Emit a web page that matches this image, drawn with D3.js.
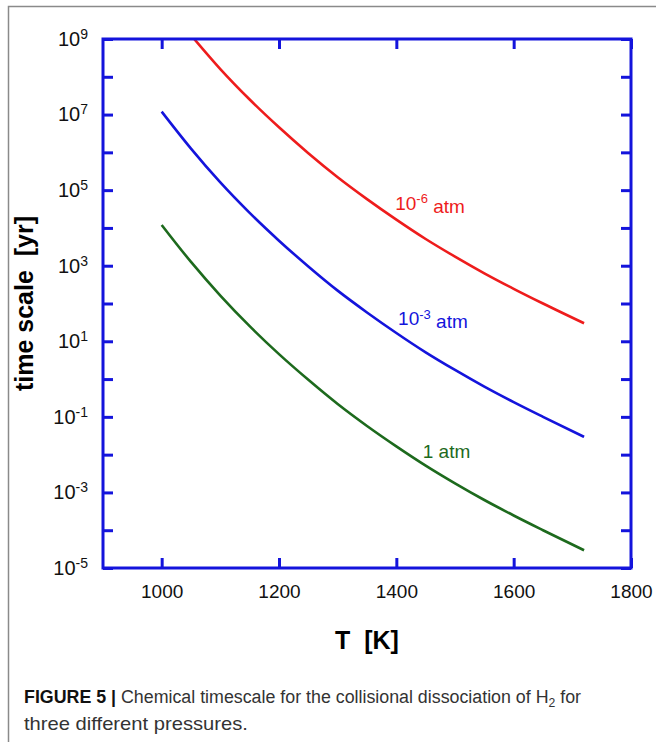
<!DOCTYPE html>
<html>
<head>
<meta charset="utf-8">
<script src="https://cdn.jsdelivr.net/npm/d3@7"></script>
<style>
    body { margin: 0; background: #fff; }
    svg { display: block; }
</style>
</head>
<body>
<svg id="chart" width="656" height="742"></svg>
<script>
// temperatures [K] at which the curves were read
const temps = [1000, 1050, 1100, 1150, 1200, 1250, 1300, 1350, 1400, 1450, 1500, 1550, 1600, 1650, 1720];

// time scale [yr] (null = above 10^9, off the chart)
const time_1atm = [1.2e4, 1.26e3, 162, 25.1, 4.57, 0.955, 0.219, 0.0575, 0.0166, 5.13e-3, 1.74e-3, 6.3e-4, 2.45e-4, 1.0e-4, 2.95e-5];
const time_1e3atm = [1.2e7, 1.26e6, 1.6e5, 2.5e4, 4.6e3, 955, 219, 58, 16.6, 5.1, 1.74, 0.63, 0.245, 0.1, 0.0295];
const time_1e6atm = [null, 1.26e9, 1.6e8, 2.5e7, 4.6e6, 9.5e5, 2.2e5, 5.8e4, 1.66e4, 5.1e3, 1.74e3, 630, 245, 100, 30];

const seriesNames = ["1 atm", "10^-3 atm", "10^-6 atm"];
const seriesColors = ["#1d6a1d", "#1414dc", "#ee1c1c"];

const xTicks = [1000, 1200, 1400, 1600, 1800];
const yDecades = [1e-5, 1e-4, 1e-3, 1e-2, 1e-1, 1, 10, 1e2, 1e3, 1e4, 1e5, 1e6, 1e7, 1e8, 1e9];

const margin = {top: 39, right: 25, bottom: 174, left: 103};
const width = 656 - margin.left - margin.right,
      height = 742 - margin.top - margin.bottom;
const axisColor = "#1414dc";
const font = "Arial, 'Liberation Sans', sans-serif";

const root = d3.select("#chart");

// grey figure border (top and left only)
root.append("path")
    .attr("d", "M8.5,742V6.5H656")
    .attr("fill", "none")
    .attr("stroke", "#8a8a8a")
    .attr("stroke-width", 1.5);

const svg = root.append("g")
    .attr("transform", `translate(${margin.left},${margin.top})`);

const x = d3.scaleLinear().domain([900, 1800]).range([0, width]);
const y = d3.scaleLog().domain([1e-5, 1e9]).range([height, 0]);

svg.append("clipPath").attr("id", "plotClip")
    .append("rect").attr("width", width).attr("height", height);

// curves
const series = [time_1atm, time_1e3atm, time_1e6atm];
const line = d3.line()
    .defined(d => d.v != null)
    .x(d => x(d.t))
    .y(d => y(d.v))
    .curve(d3.curveMonotoneX);

series.forEach(function(vals, i) {
    const data = temps.map((t, j) => ({t: t, v: vals[j]}));
    svg.append("path")
        .datum(data)
        .attr("clip-path", "url(#plotClip)")
        .attr("fill", "none")
        .attr("stroke", seriesColors[i])
        .attr("stroke-width", 2.6)
        .attr("d", line);
});

// axes, ticks pointing inward
function styleAxis(g) {
    g.select(".domain").remove();
    g.selectAll(".tick line").attr("stroke", axisColor).attr("stroke-width", 3);
}

const yAxis = svg.append("g")
    .call(d3.axisLeft(y).tickValues(yDecades).tickSize(-10).tickPadding(15)
        .tickFormat(d => ""))
    .call(styleAxis);

yAxis.selectAll(".tick text")
    .style("font-family", font)
    .style("font-size", "20px")
    .attr("fill", "#111")
    .each(function(d) {
        const e = Math.round(Math.log10(d));
        if (Math.abs(e) % 2 !== 1) return;
        const t = d3.select(this);
        t.append("tspan").text("10");
        t.append("tspan").attr("dy", "-0.5em").style("font-size", "14px").text(e);
    });

svg.append("g")
    .attr("transform", `translate(${width},0)`)
    .call(d3.axisRight(y).tickValues(yDecades).tickSize(-10).tickFormat(""))
    .call(styleAxis);

const xAxis = svg.append("g")
    .attr("transform", `translate(0,${height})`)
    .call(d3.axisBottom(x).tickValues(xTicks).tickSize(-10).tickPadding(17)
        .tickFormat(d3.format("d")))
    .call(styleAxis);

xAxis.selectAll(".tick text")
    .style("font-family", font)
    .style("font-size", "19px")
    .attr("fill", "#111");

svg.append("g")
    .call(d3.axisTop(x).tickValues(xTicks).tickSize(-10).tickFormat(""))
    .call(styleAxis);

// frame
svg.append("rect")
    .attr("width", width)
    .attr("height", height)
    .attr("fill", "none")
    .attr("stroke", axisColor)
    .attr("stroke-width", 3);

// curve labels
const labelAt = [[1445, 10 ** -2.1], [1403, 10 ** 1.43], [1398, 10 ** 4.48]];
seriesNames.forEach(function(name, i) {
    const txt = svg.append("text")
        .attr("x", x(labelAt[i][0]))
        .attr("y", y(labelAt[i][1]))
        .attr("fill", seriesColors[i])
        .style("font-family", font)
        .style("font-size", "19px");
    const m = name.match(/^10\^(\S+) (.*)$/);
    if (m) {
        txt.append("tspan").text("10");
        txt.append("tspan").attr("dy", "-0.5em").style("font-size", "13px").text(m[1]);
        txt.append("tspan").attr("dy", "0.5em").text(" " + m[2]);
    } else {
        txt.text(name);
    }
});

// axis titles
svg.append("text")
    .attr("text-anchor", "middle")
    .attr("transform", `translate(${33 - margin.left},${height / 2})rotate(-90)`)
    .style("font-family", font)
    .style("font-size", "25px")
    .style("font-weight", "bold")
    .style("white-space", "pre")
    .text("time scale  [yr]");

svg.append("text")
    .attr("text-anchor", "middle")
    .attr("x", width / 2)
    .attr("y", height + 81)
    .style("font-family", font)
    .style("font-size", "25px")
    .style("font-weight", "bold")
    .style("white-space", "pre")
    .text("T  [K]");

// caption: drawn at natural width, then squeezed horizontally to the reference width
function captionLine(yPos, targetWidth, build) {
    const g = root.append("g");
    const txt = g.append("text")
        .attr("x", 0).attr("y", 0)
        .attr("fill", "#333")
        .style("font-family", font)
        .style("font-size", "19px");
    build(txt);
    const w = txt.node().getBBox().width;
    g.attr("transform", `translate(24,${yPos})scale(${targetWidth / w},1)`);
}

captionLine(703, 558, function(txt) {
    txt.append("tspan").style("font-weight", "bold").attr("fill", "#111").text("FIGURE 5 | ");
    txt.append("tspan").text("Chemical timescale for the collisional dissociation of H");
    txt.append("tspan").attr("dy", 4).style("font-size", "13px").text("2");
    txt.append("tspan").attr("dy", -4).text(" for");
});

captionLine(730, 224, function(txt) {
    txt.text("three different pressures.");
});
</script>
</body>
</html>
